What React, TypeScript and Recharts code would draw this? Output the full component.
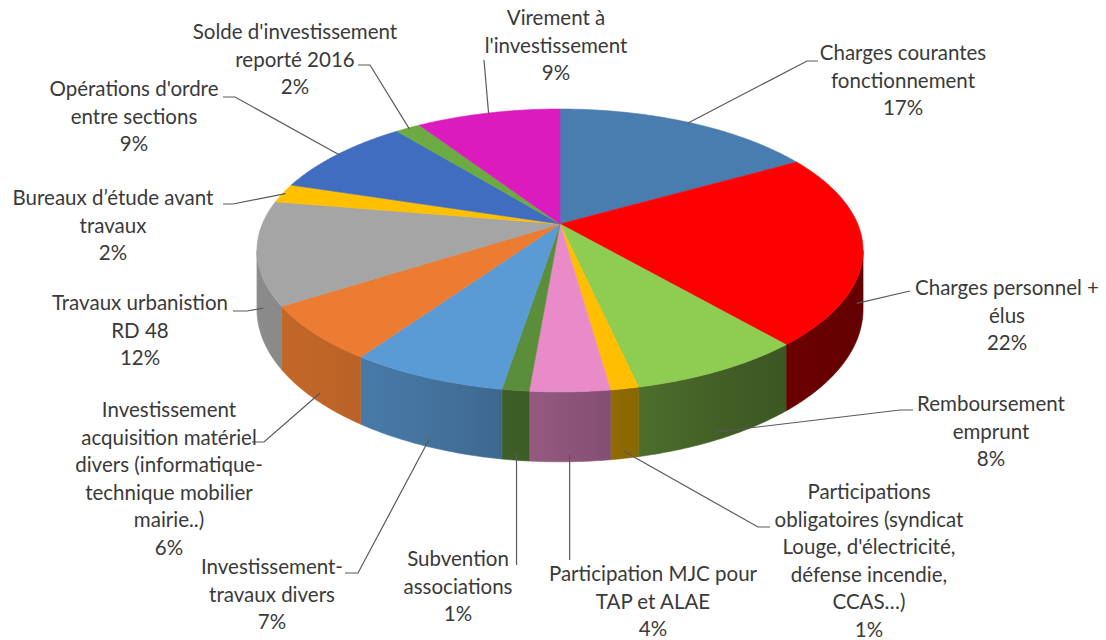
import React from 'react';
import { PieChart, Pie } from 'recharts';

// ---- data ----
const categories: string[] = [
  "Charges courantes\nfonctionnement",
  "Charges personnel +\nélus",
  "Remboursement\nemprunt",
  "Participations\nobligatoires (syndicat\nLouge, d'électricité,\ndéfense incendie,\nCCAS…)",
  "Participation MJC pour\nTAP et ALAE",
  "Subvention\nassociations",
  "Investissement-\ntravaux divers",
  "Investissement\nacquisition matériel\ndivers (informatique-\ntechnique mobilier\nmairie..)",
  "Travaux urbanistion\nRD 48",
  "Bureaux d’étude avant\ntravaux",
  "Opérations d'ordre\nentre sections",
  "Solde d'investissement\nreporté 2016",
  "Virement à\nl'investissement",
];
const values: number[] = [16.75, 21.95, 7.84, 1.25, 3.55, 1.2, 7.03, 6.3, 11.8, 2.19, 9.33, 1.6, 9.2];
const colors: string[] = [
  "#4A7DAF", "#FF0000", "#8FCC52", "#FFBF00", "#E88BC8", "#5B8E3A", "#5B9BD5",
  "#EB7C31", "#A5A5A5", "#FFC000", "#416DC1", "#6CAA43", "#DC1BBF",
];

// ---- label layout (text centre x, first line centre y, leader end, tick end) ----
const labelLayout = [
  { x: 903, y: 53, ex: 807, ey: 61, tx: 818, v: false },
  { x: 1007, y: 288, ex: 910, ey: 291, tx: 910, v: false },
  { x: 991, y: 404, ex: 900, ey: 410, tx: 913, v: false },
  { x: 869, y: 492, ex: 758, ey: 527, tx: 770, v: false },
  { x: 653, y: 574, ex: 0, ey: 560, tx: 0, v: true },
  { x: 458, y: 559, ex: 0, ey: 565, tx: 0, v: true },
  { x: 272, y: 567, ex: 358, ey: 573, tx: 345, v: false },
  { x: 169, y: 410, ex: 264, ey: 442, tx: 252, v: false },
  { x: 140, y: 303, ex: 247, ey: 311, tx: 233, v: false },
  { x: 113, y: 198, ex: 233, ey: 204, tx: 223, v: false },
  { x: 134, y: 89, ex: 235, ey: 97, tx: 223, v: false },
  { x: 295, y: 32, ex: 370, ey: 65, tx: 358, v: false },
  { x: 556, y: 18, ex: 484, ey: 60, tx: 484, v: false },
];

const rows = categories.map((name, i) => ({ name, value: values[i], fill: colors[i] }));

// ---- 3D projection helpers ----
const P = 0.187;    // perspective factor
const KC = 0.4585;  // vertical squash
const KH = 0.191;   // thickness
const LINE_H = 27.5;

function proj(cx: number, cy: number, R: number, deg: number, r: number, down: number): [number, number] {
  const t = (deg * Math.PI) / 180;
  const s = Math.sin(t);
  const co = Math.cos(t);
  const den = 1 + P * r * s;
  const den1 = 1 + P * s;
  return [cx + (R * r * co) / den, cy - (R * KC * r * s) / den + (down ? (R * KH * down) / den1 : 0)];
}

function hexRgb(h: string): number[] {
  const n = parseInt(h.slice(1), 16);
  return [(n >> 16) & 255, (n >> 8) & 255, n & 255];
}
function shade(h: string, f: number): string {
  const [r, g, b] = hexRgb(h);
  const c = (v: number) => Math.max(0, Math.min(255, Math.round(v * f)));
  return `rgb(${c(r)},${c(g)},${c(b)})`;
}
function sideFactor(deg: number): number {
  const t = -deg / 180; // 0 at right, 1 at left
  const g = 1 / (1 + Math.exp(-(t - 0.5) / 0.1));
  return 0.38 + 0.47 * g;
}

const Slice3D = (props: any) => {
  const { cx, cy, outerRadius, startAngle, endAngle, fill } = props;
  const R = outerRadius;
  const hi = Math.max(startAngle, endAngle);
  const lo = Math.min(startAngle, endAngle);
  const sil = (Math.asin(P) * 180) / Math.PI;
  const wHi = Math.min(hi, -sil);
  const wLo = Math.max(lo, -180 + sil);
  const id = `side${Math.round(hi * 100)}`.replace('-', 'm').replace('.', '_');
  let wall: React.ReactNode = null;
  if (wHi > wLo) {
    const n = Math.max(2, Math.ceil((wHi - wLo) / 0.5));
    const top: string[] = [];
    const bot: string[] = [];
    for (let k = 0; k <= n; k++) {
      const d = wHi - ((wHi - wLo) * k) / n;
      const [x, y] = proj(cx, cy, R, d, 1, 0);
      top.push(`${x.toFixed(2)},${y.toFixed(2)}`);
    }
    for (let k = n; k >= 0; k--) {
      const d = wHi - ((wHi - wLo) * k) / n;
      const [x, y] = proj(cx, cy, R, d, 1, 1);
      bot.push(`${x.toFixed(2)},${y.toFixed(2)}`);
    }
    const xl = proj(cx, cy, R, wLo, 1, 0)[0];
    const xr = proj(cx, cy, R, wHi, 1, 0)[0];
    const stops = [0, 0.25, 0.5, 0.75, 1].map((f) => {
      const d = wLo + (wHi - wLo) * f;
      const x = proj(cx, cy, R, d, 1, 0)[0];
      const off = xr - xl > 0.01 ? (x - xl) / (xr - xl) : f;
      return <stop key={f} offset={Math.max(0, Math.min(1, off))} stopColor={shade(fill, sideFactor(d))} />;
    });
    const dPath = `M${top.join(' L')} L${bot.join(' L')} Z`;
    wall = (
      <g>
        <defs>
          <linearGradient id={id} gradientUnits="userSpaceOnUse" x1={xl} y1={0} x2={xr} y2={0}>
            {stops}
          </linearGradient>
        </defs>
        <path d={dPath} fill={`url(#${id})`} stroke={`url(#${id})`} strokeWidth={0.6} />
      </g>
    );
  }
  const n2 = Math.max(2, Math.ceil((hi - lo) / 0.5));
  const pts: string[] = [];
  for (let k = 0; k <= n2; k++) {
    const d = hi - ((hi - lo) * k) / n2;
    const [x, y] = proj(cx, cy, R, d, 1, 0);
    pts.push(`${x.toFixed(2)},${y.toFixed(2)}`);
  }
  const topPath = `M${cx},${cy} L${pts.join(' L')} Z`;
  return (
    <g>
      {wall}
      <path d={topPath} fill={fill} stroke={fill} strokeWidth={0.6} strokeLinejoin="round" />
    </g>
  );
};

const renderLabel = (props: any) => {
  const { cx, cy, outerRadius, midAngle, percent, index } = props;
  const lay = labelLayout[index];
  const R = outerRadius;
  const s = Math.sin((midAngle * Math.PI) / 180);
  const anchor = s >= 0 ? proj(cx, cy, R, midAngle, 0.99, 0) : proj(cx, cy, R, midAngle, 0.98, 0.95);
  const ex = lay.v ? anchor[0] : lay.ex;
  const tx = lay.v ? anchor[0] : lay.tx;
  const d = `M${anchor[0]},${anchor[1]} L${ex},${lay.ey} L${tx},${lay.ey}`;
  const lines = categories[index].split('\n').concat([`${Math.round(percent * 100)}%`]);
  return (
    <g key={`lab${index}`}>
      <path d={d} fill="none" stroke="#595959" strokeWidth={1.2} />
      {lines.map((t, k) => (
        <text
          key={k}
          x={lay.x}
          y={lay.y + k * LINE_H}
          dy="0.35em"
          textAnchor="middle"
          fontFamily="Lato, 'Open Sans', sans-serif"
          fontSize={20.5}
          fill="#3a3a3a"
        >
          {t}
        </text>
      ))}
    </g>
  );
};

export default function App() {
  return (
    <div style={{ position: 'absolute', left: 0, top: 0, width: 1106, height: 640, background: '#fff' }}>
      <PieChart width={1106} height={640} margin={{ top: 0, right: 0, bottom: 0, left: 0 }}>
        <Pie
          data={rows}
          dataKey="value"
          nameKey="name"
          cx={560}
          cy={224}
          outerRadius={297.7}
          startAngle={90}
          endAngle={-270}
          stroke="none"
          isAnimationActive={false}
          shape={Slice3D}
          label={renderLabel}
          labelLine={false}
        />
      </PieChart>
    </div>
  );
}
